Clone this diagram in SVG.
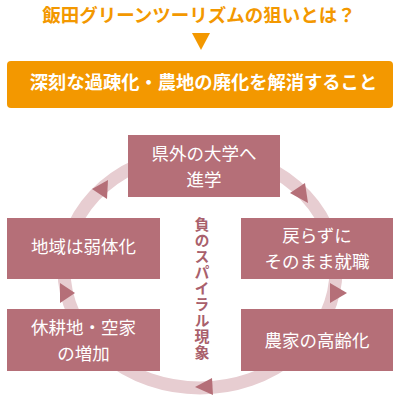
<svg xmlns="http://www.w3.org/2000/svg" width="400" height="406" viewBox="0 0 400 406">
<style>
.box{fill:#B56F78;}
.bt{fill:#ffffff;font-family:"Noto Sans CJK JP","Noto Sans",sans-serif;font-size:17.5px;text-anchor:middle;}
.arr{fill:#B56F78;}
.ring{fill:none;stroke:#E7CDD1;stroke-width:13;}
.ttl{font-family:"Noto Sans CJK JP","Noto Sans",sans-serif;font-weight:bold;text-anchor:middle;}
</style>
<rect width="400" height="406" fill="#ffffff"/>
<g id="title">
<text class="ttl" x="199" y="22" font-size="18.5" fill="#F39800">飯田グリーンツーリズムの狙いとは？</text>
<polygon points="192,33 210,33 201,50" fill="#F39800"/>
</g>
<g id="goal">
<rect x="7" y="61" width="386" height="47" rx="4" fill="#F39800"/>
<text class="ttl" x="203.5" y="88.5" font-size="18.3" fill="#ffffff">深刻な過疎化・農地の廃化を解消すること</text>
</g>
<g id="connectors">
<ellipse class="ring" cx="200" cy="270" rx="136" ry="118"/>
<polygon class="arr" points="92,189 108,180 107,199"/>
<polygon class="arr" points="290,193 305,183 308,203"/>
<polygon class="arr" points="330,283 347,293 330,303"/>
<polygon class="arr" points="195,387 212,378 213,395"/>
<polygon class="arr" points="60,283 75,293 60,303"/>
</g>
<g id="center-label">
<text x="202" y="217" font-family="'Noto Sans CJK JP',sans-serif" font-size="15" font-weight="bold" fill="#A9606C" writing-mode="vertical-rl" letter-spacing="1">負のスパイラル現象</text>
</g>
<g id="node-university">
<rect class="box" x="128" y="135" width="152" height="62"/>
<text class="bt" x="204" y="160">県外の大学へ</text>
<text class="bt" x="204" y="186">進学</text>
</g>
<g id="node-employment">
<rect class="box" x="241" y="218" width="152" height="61"/>
<text class="bt" x="317" y="242">戻らずに</text>
<text class="bt" x="317" y="268">そのまま就職</text>
</g>
<g id="node-aging">
<rect class="box" x="241" y="309" width="152" height="62"/>
<text class="bt" x="317" y="347">農家の高齢化</text>
</g>
<g id="node-fallow">
<rect class="box" x="7" y="309" width="153" height="62"/>
<text class="bt" x="83.5" y="334">休耕地・空家</text>
<text class="bt" x="83.5" y="360">の増加</text>
</g>
<g id="node-weakening">
<rect class="box" x="7" y="218" width="153" height="61"/>
<text class="bt" x="83.5" y="253">地域は弱体化</text>
</g>
</svg>
